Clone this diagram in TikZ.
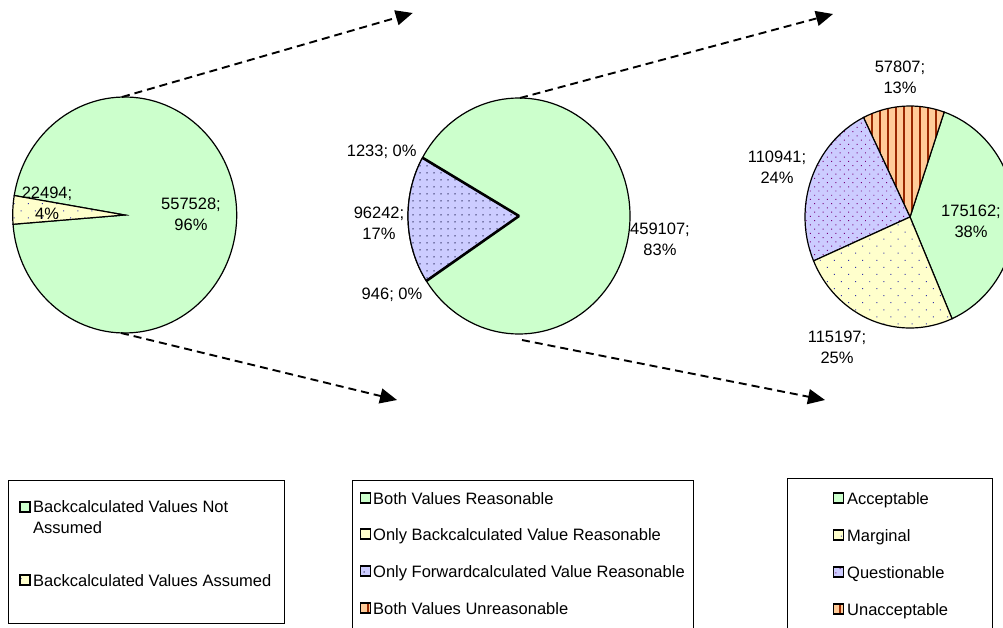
\documentclass[tikz,border=0pt]{standalone}
\usepackage{fontspec}
\setmainfont{Liberation Sans}
\usetikzlibrary{arrows.meta,patterns.meta}
\definecolor{pgreen}{RGB}{204,255,204}
\definecolor{pyellow}{RGB}{255,255,204}
\definecolor{pblue}{RGB}{204,204,255}
\definecolor{porange}{RGB}{255,204,153}
\definecolor{stripe}{RGB}{153,40,0}
\definecolor{ydot}{RGB}{50,50,170}
\definecolor{bdot}{RGB}{40,40,90}
\definecolor{pdot}{RGB}{120,0,120}
\newcommand\mkslice[6]{%
  \path[#1] (#2) -- ++(#3:#5 and #6) arc[start angle=#3, end angle=#4, x radius=#5, y radius=#6] -- cycle;}
\tikzset{
  every node/.style={font=\fontsize{16.5}{21}\selectfont, inner sep=0pt, text=black},
  pieline/.style={draw=black, line width=1.2pt},
  greenfill/.style={pieline, fill=pgreen},
  yellowfill/.style={pieline, preaction={fill=pyellow}, pattern={Dots[angle=45,distance=10pt,radius=0.7pt]}, pattern color=ydot},
  bluefill/.style={pieline, preaction={fill=pblue}, pattern={Dots[distance=7pt,radius=0.75pt]}, pattern color=bdot},
  bluefillb/.style={pieline, preaction={fill=pblue}, pattern={Dots[angle=45,distance=6pt,radius=0.7pt]}, pattern color=pdot},
  orangefill/.style={pieline, preaction={fill=porange}, pattern={Lines[angle=90,distance=8pt,line width=1.4pt]}, pattern color=stripe},
  flow/.style={line width=1.9pt, dash pattern=on 8pt off 5pt, -{Triangle[length=17pt,width=15pt]}},
  legbox/.style={draw=black, line width=0.9pt},
  legsq/.style={draw=black, line width=1.1pt, minimum size=10pt, inner sep=0pt},
  lab/.style={align=center},
  legtext/.style={anchor=base west},
}
\begin{document}
\begin{tikzpicture}[x=1pt,y=1pt]
\useasboundingbox (0,0) rectangle (1003,-628);
\clip (0,0) rectangle (1003,-628);
\fill[white] (0,0) rectangle (1003,-628);

% ---------- pie 1 ----------
\coordinate (c1) at (124.7,-215);
\mkslice{greenfill}{c1}{184.5}{530.5}{112}{118}
\mkslice{yellowfill}{c1}{170.5}{184.5}{112}{118}

% ---------- pie 2 ----------
\coordinate (c2) at (519,-216);
\draw[greenfill] (c2) ellipse [x radius=111, y radius=118];
\mkslice{bluefill}{c2}{150.6}{213.2}{111}{118}
\draw[line width=2.6pt] (c2) -- ++(150.4:111 and 118);
\draw[line width=2.6pt] (c2) -- ++(213.4:111 and 118);

% ---------- pie 3 ----------
\coordinate (c3) at (910,-217);
\mkslice{greenfill}{c3}{293.6}{431}{105}{111}
\mkslice{orangefill}{c3}{71}{116.3}{105}{111}
\mkslice{bluefillb}{c3}{116.3}{203.3}{105}{111}
\mkslice{yellowfill}{c3}{203.3}{293.6}{105}{111}

% ---------- labels ----------
\node[lab] (l1a) at (191,-214.5) {557528;\\96\%};
\node[lab] (l1b) at (47,-203.5) {22494;\\4\%};
\node (l2a) at (381.7,-151.7) {1233; 0\%};
\node[lab] (l2b) at (379,-223.5) {96242;\\17\%};
\node (l2c) at (392,-295) {946; 0\%};
\node[lab] (l2d) at (660,-239) {459107;\\83\%};
\node[lab] (l3a) at (900,-77.5) {57807;\\13\%};
\node[lab] (l3b) at (777,-167) {110941;\\24\%};
\node[lab] (l3c) at (971,-221) {175162;\\38\%};
\node[lab] (l3d) at (837,-347.5) {115197;\\25\%};

% ---------- arrows ----------
\coordinate (p1top) at (122,-97);
\coordinate (a1end) at (412.7,-13);
\coordinate (p1bot) at (121,-333);
\coordinate (a2end) at (397,-400);
\coordinate (p2top) at (520,-98);
\coordinate (a3end) at (833,-14);
\coordinate (p2bot) at (522,-340);
\coordinate (a4end) at (825,-400);
\draw[flow] (p1top) -- (a1end);
\draw[flow] (p1bot) -- (a2end);
\draw[flow] (p2top) -- (a3end);
\draw[flow] (p2bot) -- (a4end);

% ---------- legend 1 ----------
\draw[legbox] (8,-480) rectangle (284,-623);
\node[greenfill, legsq] (s11) at (25,-507) {};
\node[anchor=west, align=left] (t11) at (33,-517.5) {Backcalculated Values Not\\Assumed};
\node[yellowfill, legsq] (s12) at (25,-580) {};
\node[legtext] (t12) at (33,-586) {Backcalculated Values Assumed};

% ---------- legend 2 ----------
\draw[legbox] (352,-480) rectangle (693,-640);
\node[greenfill, legsq] (s21) at (365.5,-498) {};
\node[legtext] (t21) at (373,-504) {Both Values Reasonable};
\node[yellowfill, legsq] (s22) at (365.5,-534) {};
\node[legtext] (t22) at (373,-540) {Only Backcalculated Value Reasonable};
\node[bluefill, legsq] (s23) at (365.5,-571) {};
\node[legtext] (t23) at (373,-577) {Only Forwardcalculated Value Reasonable};
\node[orangefill, legsq] (s24) at (365.5,-608) {};
\node[legtext] (t24) at (373,-614) {Both Values Unreasonable};

% ---------- legend 3 ----------
\draw[legbox] (787,-478) rectangle (992,-640);
\node[greenfill, legsq] (s31) at (838.5,-498) {};
\node[legtext] (t31) at (847,-504) {Acceptable};
\node[yellowfill, legsq] (s32) at (838.5,-535) {};
\node[legtext] (t32) at (847,-541) {Marginal};
\node[bluefillb, legsq] (s33) at (838.5,-572) {};
\node[legtext] (t33) at (847,-578) {Questionable};
\node[orangefill, legsq] (s34) at (838.5,-609) {};
\node[legtext] (t34) at (847,-615) {Unacceptable};
\end{tikzpicture}
\end{document}
